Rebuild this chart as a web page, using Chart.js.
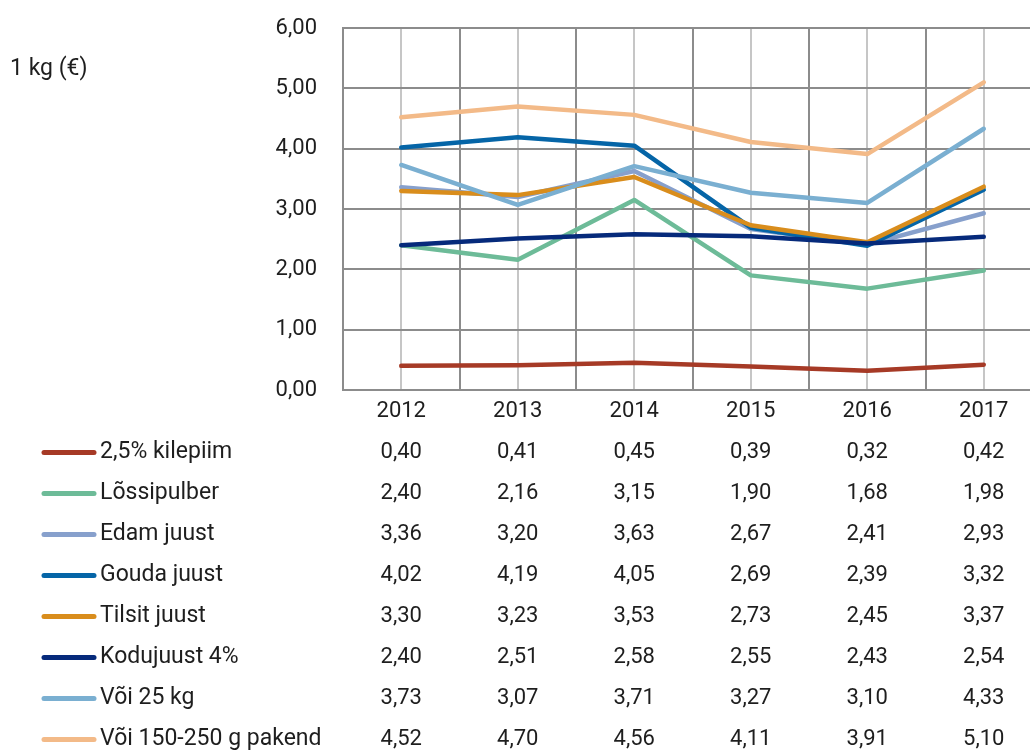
<!DOCTYPE html>
<html>
<head>
<meta charset="utf-8">
<script src="https://cdn.jsdelivr.net/npm/chart.js@4/dist/chart.umd.min.js"></script>
<style>
html,body{margin:0;padding:0;background:#fff;overflow:hidden;}
#wrap{position:absolute;left:0;top:0;width:1050px;height:751px;}
</style>
</head>
<body>
<div id="wrap"><canvas id="c" width="1050" height="751"></canvas></div>
<script>
const years = ['2012','2013','2014','2015','2016','2017'];
const seriesNames = ['2,5% kilepiim','Lõssipulber','Edam juust','Gouda juust','Tilsit juust','Kodujuust 4%','Või 25 kg','Või 150-250 g pakend'];
const kilepiim   = [0.40, 0.41, 0.45, 0.39, 0.32, 0.42];
const lossipulber= [2.40, 2.16, 3.15, 1.90, 1.68, 1.98];
const edam       = [3.36, 3.20, 3.63, 2.67, 2.41, 2.93];
const gouda      = [4.02, 4.19, 4.05, 2.69, 2.39, 3.32];
const tilsit     = [3.30, 3.23, 3.53, 2.73, 2.45, 3.37];
const kodujuust  = [2.40, 2.51, 2.58, 2.55, 2.43, 2.54];
const voi25      = [3.73, 3.07, 3.71, 3.27, 3.10, 4.33];
const voiPakend  = [4.52, 4.70, 4.56, 4.11, 3.91, 5.10];
const yTicks = [0,1,2,3,4,5,6];
const yTitle = '1 kg (€)';

const seriesValues = [kilepiim, lossipulber, edam, gouda, tilsit, kodujuust, voi25, voiPakend];
const colors = ['#A63A26','#6DBB98','#87A0CC','#0565A7','#D98D1C','#062A7B','#7AAFD1','#F3BA88'];

const FONT = 'Roboto, "Liberation Sans", sans-serif';
const fmt = v => v.toFixed(2).replace('.', ',');
const LINE_H = 41;
const TICK_PAD = 1;

const tableLabels = years.map((y, j) => [y].concat(seriesValues.map(s => fmt(s[j]))));

const datasets = seriesNames.map((n, i) => ({
  label: n,
  data: seriesValues[i],
  borderColor: colors[i],
  backgroundColor: colors[i],
  borderWidth: 4.5,
  pointRadius: 0,
  fill: false,
  tension: 0,
  borderCapStyle: 'round',
  borderJoinStyle: 'round',
  order: seriesNames.length - i,
  xAxisID: 'x'
}));

const legendTable = {
  id: 'legendTable',
  afterDraw(chart) {
    const ctx = chart.ctx;
    const xs = chart.scales.x;
    ctx.save();
    ctx.font = '400 23px ' + FONT;
    ctx.fillStyle = '#1e1e1e';
    ctx.textBaseline = 'middle';
    ctx.textAlign = 'left';
    ctx.fillText(yTitle, 10, 69);
    seriesNames.forEach((n, i) => {
      const y = xs.top + TICK_PAD + LINE_H * (i + 1) + LINE_H / 2;
      ctx.strokeStyle = colors[i];
      ctx.lineWidth = 5;
      ctx.lineCap = 'round';
      ctx.beginPath();
      ctx.moveTo(44, y);
      ctx.lineTo(94, y);
      ctx.stroke();
      ctx.fillStyle = '#1e1e1e';
      ctx.fillText(n, 100, y);
    });
    ctx.restore();
  }
};

new Chart(document.getElementById('c'), {
  type: 'line',
  data: { labels: tableLabels, datasets },
  options: {
    responsive: false,
    animation: false,
    devicePixelRatio: 1,
    layout: { padding: { top: 28, right: 8, left: 0, bottom: 0 } },
    plugins: { legend: { display: false }, tooltip: { enabled: false }, title: { display: false } },
    scales: {
      x: {
        type: 'category',
        position: 'bottom',
        offset: true,
        grid: { offset: true, color: '#8c8c8c', lineWidth: 2, drawTicks: false },
        border: { display: true, color: '#8c8c8c', width: 2 },
        ticks: {
          color: '#1e1e1e',
          font: { family: FONT, size: 22, weight: 400, lineHeight: LINE_H + 'px' },
          padding: TICK_PAD,
          maxRotation: 0,
          autoSkip: false
        },
        afterFit(s) { s.height = 361; }
      },
      x2: {
        type: 'category',
        position: 'bottom',
        labels: years,
        offset: true,
        grid: { offset: false, color: '#c6c6c6', lineWidth: 2, drawTicks: false },
        border: { display: false },
        ticks: { display: false },
        afterFit(s) { s.height = 0; }
      },
      y: {
        min: 0,
        max: 6,
        afterBuildTicks(s) { s.ticks = yTicks.map(v => ({ value: v })); },
        grid: { color: '#8c8c8c', lineWidth: 2, drawTicks: true, tickLength: 26, tickColor: 'rgba(0,0,0,0)' },
        border: { display: true, color: '#8c8c8c', width: 2 },
        ticks: {
          color: '#1e1e1e',
          font: { family: FONT, size: 22, weight: 400 },
          padding: 0,
          callback: v => fmt(v)
        },
        afterFit(s) { s.width = 343; }
      }
    }
  },
  plugins: [legendTable]
});
</script>
</body>
</html>
